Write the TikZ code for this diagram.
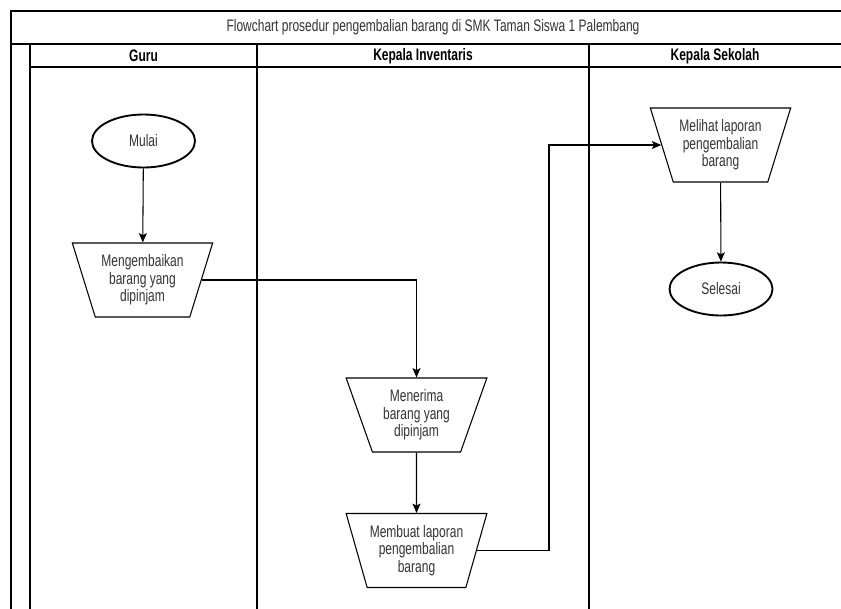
\documentclass[tikz,border=0pt]{standalone}
\usepackage{fontspec}
\setmainfont[FakeStretch=0.72]{Liberation Sans}
\usetikzlibrary{shapes.geometric,arrows.meta}

\definecolor{ink}{HTML}{333333}

\tikzset{
  frame/.style={draw=black, line width=0.8pt},
  label/.style={font=\fontsize{12.5}{13.2}\selectfont},
  startend/.style={ellipse, draw=black, line width=1.4pt, minimum width=103*0.75pt,
    minimum height=53*0.75pt, inner sep=0pt, text=ink, label},
  manual/.style={trapezium, shape border rotate=180, trapezium stretches=true,
    trapezium angle=68.6, draw=black, line width=0.8pt, minimum width=141*0.75pt,
    minimum height=74*0.75pt, inner sep=0pt, align=center, text=ink, label},
  flow/.style={draw=black, line width=0.8pt, -{Stealth[length=7pt, width=6pt, inset=1.5pt]}},
  lanehead/.style={font=\bfseries\fontsize{12.5}{13}\selectfont, text=black},
  titletext/.style={font=\fontsize{12.5}{13}\selectfont, text=ink}
}

\begin{document}
\begin{tikzpicture}[x=0.75pt, y=-0.75pt]
\useasboundingbox (0,0) rectangle (841,608);
\clip (0,0) rectangle (841,608);

% pool frame, title row and lane headers
\draw[frame] (860,11) -- (11,11) -- (11,640);
\draw[frame] (11,44) -- (860,44);
\draw[frame] (30,44) -- (30,640);
\draw[frame] (30,67) -- (860,67);
\draw[frame] (257,44) -- (257,640);
\draw[frame] (589,44) -- (589,640);

\node[titletext] (title) at (433,27.5) {Flowchart prosedur pengembalian barang di SMK Taman Siswa 1 Palembang};
\node[lanehead] (hguru) at (143.5,56) {Guru};
\node[lanehead] (hinv) at (423,56) {Kepala Inventaris};
\node[lanehead] (hkep) at (715,56) {Kepala Sekolah};

% flow steps
\node[startend] (mulai) at (143.5,141) {Mulai};
\node[manual] (kembali) at (142.5,280) {Mengembaikan\\barang yang\\dipinjam};
\node[manual] (terima) at (416.5,415) {Menerima\\barang yang\\dipinjam};
\node[manual] (laporan) at (416.5,550.5) {Membuat laporan\\pengembalian\\barang};
\node[manual] (lihat) at (720.5,145) {Melihat laporan\\pengembalian\\barang};
\node[startend] (selesai) at (721,289) {Selesai};

\coordinate (bend) at (549,300);

% connectors
\draw[flow] (mulai) -- (kembali);
\draw[flow] (kembali.east) -| (terima.north);
\draw[flow] (terima) -- (laporan);
\draw[flow] (laporan.east) -- (laporan.east -| bend) -- (bend |- lihat.west) -- (lihat.west);
\draw[flow] (lihat) -- (selesai);
\end{tikzpicture}
\end{document}
